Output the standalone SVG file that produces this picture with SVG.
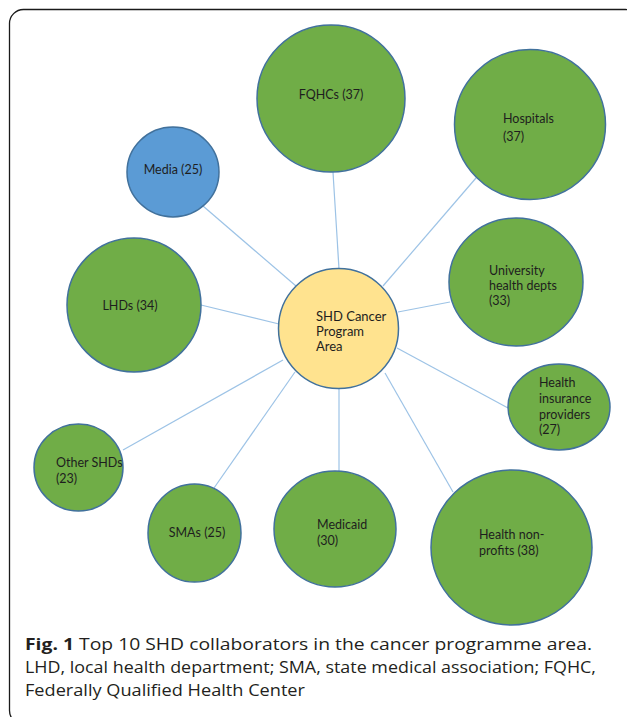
<svg xmlns="http://www.w3.org/2000/svg" width="627" height="717" viewBox="0 0 627 717">
<style>
.frame{fill:none;stroke:#1a1a1a;stroke-width:1.3}
.n{fill:#70AD47;stroke:#41719C;stroke-width:1.5}
.m{fill:#5B9BD5;stroke:#41719C;stroke-width:1.5}
.c{fill:#FFE38F;stroke:#41719C;stroke-width:1.5}
.e line{stroke:#9DC3E6;stroke-width:1.2}
.t{font-family:Lato,"Open Sans",sans-serif;font-size:12.5px;fill:#1e1e1e}
.mid{text-anchor:middle}
.cap{font-family:"Open Sans","Noto Sans",sans-serif;font-size:16.5px;fill:#231F20}
.b{font-weight:bold}
</style>
<rect width="627" height="717" fill="#ffffff"/>
<rect class="frame" x="9.5" y="9.5" width="630" height="715" rx="14"/>
<g class="e" id="connectors">
<line x1="339" y1="269" x2="333" y2="172"/>
<line x1="383" y1="286" x2="476" y2="178"/>
<line x1="398" y1="312" x2="450" y2="302"/>
<line x1="397" y1="348" x2="508" y2="408"/>
<line x1="385" y1="373" x2="453" y2="492"/>
<line x1="339" y1="388" x2="339" y2="471"/>
<line x1="295" y1="372" x2="214" y2="488"/>
<line x1="283" y1="360" x2="123" y2="450"/>
<line x1="279" y1="324" x2="201" y2="305"/>
<line x1="296" y1="286" x2="203" y2="206"/>
</g>
<g id="fqhcs"><ellipse class="n" cx="331" cy="98.5" rx="74" ry="73.5"/><text class="t mid" x="331" y="99">FQHCs (37)</text></g>
<g id="hospitals"><ellipse class="n" cx="530" cy="124.5" rx="75.5" ry="75"/><text class="t" x="503" y="123">Hospitals</text><text class="t" x="503" y="141">(37)</text></g>
<g id="media"><ellipse class="m" cx="173" cy="172" rx="46" ry="45"/><text class="t mid" x="173" y="174">Media (25)</text></g>
<g id="lhds"><ellipse class="n" cx="134" cy="305" rx="67" ry="67"/><text class="t mid" x="130" y="310">LHDs (34)</text></g>
<g id="center"><circle class="c" cx="338.5" cy="328.5" r="60"/><text class="t" x="316" y="321" style="font-size:13px">SHD Cancer</text><text class="t" x="316" y="336" style="font-size:13px">Program</text><text class="t" x="316" y="351" style="font-size:13px">Area</text></g>
<g id="university"><ellipse class="n" cx="516" cy="282" rx="67" ry="64"/><text class="t" x="489" y="275">University</text><text class="t" x="489" y="290">health depts</text><text class="t" x="489" y="305">(33)</text></g>
<g id="insurance"><ellipse class="n" cx="559" cy="407" rx="51" ry="43"/><text class="t" x="539" y="387">Health</text><text class="t" x="539" y="403">insurance</text><text class="t" x="539" y="419">providers</text><text class="t" x="539" y="434">(27)</text></g>
<g id="othershds"><ellipse class="n" cx="78.5" cy="467.5" rx="44.5" ry="43.5"/><text class="t" x="56" y="467">Other SHDs</text><text class="t" x="56" y="483">(23)</text></g>
<g id="smas"><ellipse class="n" cx="194.5" cy="533" rx="46.5" ry="49"/><text class="t mid" x="197" y="537">SMAs (25)</text></g>
<g id="medicaid"><ellipse class="n" cx="335" cy="529" rx="61" ry="58"/><text class="t" x="317" y="529">Medicaid</text><text class="t" x="317" y="545">(30)</text></g>
<g id="nonprofits"><ellipse class="n" cx="511.5" cy="547.5" rx="80.5" ry="77.5"/><text class="t" x="479" y="539">Health non-</text><text class="t" x="479" y="555">profits (38)</text></g>
<g id="caption">
<text class="cap" x="25" y="650" textLength="567" lengthAdjust="spacingAndGlyphs"><tspan class="b">Fig. 1</tspan>  Top 10 SHD collaborators in the cancer programme area.</text>
<text class="cap" x="25" y="673" textLength="571" lengthAdjust="spacingAndGlyphs">LHD, local health department; SMA, state medical association; FQHC,</text>
<text class="cap" x="25" y="696" textLength="280" lengthAdjust="spacingAndGlyphs">Federally Qualified Health Center</text>
</g>
</svg>
